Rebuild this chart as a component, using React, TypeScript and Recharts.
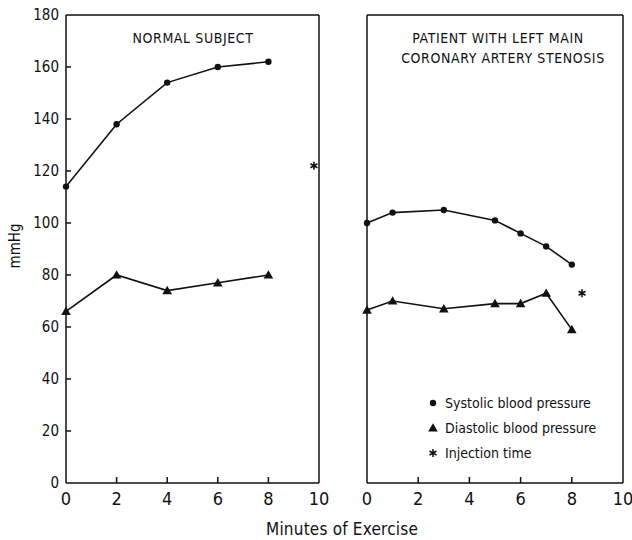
import React from "react";
import { ComposedChart, Line, Scatter, XAxis, YAxis, ReferenceLine } from "recharts";

const FONT = "'Liberation Sans Narrow', 'DejaVu Sans Condensed', 'Arial Narrow', sans-serif";
const INK = "#111";

// X ticks & Y ticks
const minuteTicks = [0, 2, 4, 6, 8, 10];
const pressureTicks = [0, 20, 40, 60, 80, 100, 120, 140, 160, 180];

// Normal subject
const normalMinutes = [0, 2, 4, 6, 8];
const normalSystolic = [114, 138, 154, 160, 162];
const normalDiastolic = [66, 80, 74, 77, 80];
const normalInjection = [{ x: 9.8, y: 122 }];

// Patient with left main coronary artery stenosis
const patientMinutes = [0, 1, 3, 5, 6, 7, 8];
const patientSystolic = [100, 104, 105, 101, 96, 91, 84];
const patientDiastolic = [66.5, 70, 67, 69, 69, 73, 59];
const patientInjection = [{ x: 8.4, y: 73 }];

const toPts = (xs: number[], ys: number[]) => xs.map((x, i) => ({ x, y: ys[i] }));

const CircleDot = (p: any) => {
  if (p.cx == null || p.cy == null) return null;
  return <circle key={`c${p.index}`} cx={p.cx} cy={p.cy} r={3.2} fill={INK} stroke="none" />;
};
const TriDot = (p: any) => {
  if (p.cx == null || p.cy == null) return null;
  const s = 4.8;
  return (
    <path
      key={`t${p.index}`}
      d={`M${p.cx},${p.cy - s} L${p.cx + s},${p.cy + s * 0.75} L${p.cx - s},${p.cy + s * 0.75} Z`}
      fill={INK}
      stroke="none"
    />
  );
};
const Asterisk = (p: any) => {
  const { cx, cy } = p;
  const r = 4;
  const d = [0, 60, 120]
    .map((a) => {
      const rad = (a * Math.PI) / 180;
      const dx = Math.sin(rad) * r;
      const dy = Math.cos(rad) * r;
      return `M${cx - dx},${cy - dy} L${cx + dx},${cy + dy}`;
    })
    .join(" ");
  return <path d={d} stroke={INK} strokeWidth={1.6} fill="none" />;
};

const XTick = (p: any) => {
  const { x, y, payload } = p;
  return (
    <text x={x} y={y} dy={14} textAnchor="middle" fontSize={18} fontFamily={FONT} fill={INK}>
      {payload.value}
    </text>
  );
};
const YTick = (p: any) => {
  const { x, y, payload } = p;
  return (
    <text x={x - 1} y={y} dy={5} textAnchor="end" fontSize={15} fontFamily={FONT} fill={INK}>
      {payload.value}
    </text>
  );
};

const Panel = ({
  left,
  width,
  yWidth,
  marginRight,
  showYTicks,
  minutes,
  sys,
  dia,
  inj,
}: any) => (
  <div style={{ position: "absolute", left, top: 0 }}>
    <ComposedChart width={width} height={540} margin={{ top: 15, right: marginRight, bottom: 0, left: 0 }}>
      <XAxis
        type="number"
        dataKey="x"
        domain={[0, 10]}
        ticks={minuteTicks}
        interval={0}
        height={57}
        tickSize={0}
        tickMargin={8}
        axisLine={{ stroke: INK, strokeWidth: 1.5 }}
        tickLine={false}
        tick={(tp: any) => <XTick {...tp} />}
      />
      <YAxis
        type="number"
        dataKey="y"
        domain={[0, 180]}
        ticks={pressureTicks}
        interval={0}
        width={yWidth}
        tickSize={0}
        tickMargin={6}
        axisLine={{ stroke: INK, strokeWidth: 1.5 }}
        tickLine={false}
        tick={showYTicks ? (tp: any) => <YTick {...tp} /> : false}
      />
      <ReferenceLine y={180} stroke={INK} strokeWidth={1.5} />
      <ReferenceLine x={10} stroke={INK} strokeWidth={1.5} />
      {minuteTicks
        .filter((v) => v > 0 && v < 10)
        .map((v) => (
          <ReferenceLine
            key={`xt${v}`}
            segment={[
              { x: v, y: 0 },
              { x: v, y: 2.3 },
            ]}
            stroke={INK}
            strokeWidth={1.5}
          />
        ))}
      {showYTicks &&
        pressureTicks
          .filter((v) => v > 0 && v < 180)
          .map((v) => (
            <ReferenceLine
              key={`yt${v}`}
              segment={[
                { x: 0, y: v },
                { x: 0.2, y: v },
              ]}
              stroke={INK}
              strokeWidth={1.5}
            />
          ))}
      <Line
        data={toPts(minutes, sys)}
        dataKey="y"
        stroke={INK}
        strokeWidth={1.6}
        dot={CircleDot}
        activeDot={false}
        isAnimationActive={false}
        legendType="none"
      />
      <Line
        data={toPts(minutes, dia)}
        dataKey="y"
        stroke={INK}
        strokeWidth={1.6}
        dot={TriDot}
        activeDot={false}
        isAnimationActive={false}
        legendType="none"
      />
      <Scatter data={inj} shape={Asterisk} isAnimationActive={false} />
    </ComposedChart>
  </div>
);

const txt = (style: React.CSSProperties, s: string) => (
  <div style={{ position: "absolute", fontFamily: FONT, color: INK, whiteSpace: "nowrap", lineHeight: 1, ...style }}>{s}</div>
);

const LegendRow = ({ top, sym, label }: any) => (
  <div style={{ position: "absolute", left: 426, top, height: 16, display: "flex", alignItems: "center" }}>
    <svg width={14} height={14} style={{ marginRight: 5 }}>
      {sym === "circle" && <circle cx={7} cy={7} r={3.2} fill={INK} />}
      {sym === "tri" && <path d="M7,2.2 L11.8,10.6 L2.2,10.6 Z" fill={INK} />}
      {sym === "star" && (
        <path d="M7,3 L7,11 M3.5,5 L10.5,9 M3.5,9 L10.5,5" stroke={INK} strokeWidth={1.5} />
      )}
    </svg>
    <span style={{ fontFamily: FONT, fontSize: 14, color: INK }}>{label}</span>
  </div>
);

export default function App() {
  return (
    <div style={{ position: "absolute", left: 0, top: 0, width: 632, height: 540, background: "#fff", overflow: "hidden" }}>
      <Panel
        left={0}
        width={330}
        yWidth={66}
        marginRight={11}
        showYTicks={true}
        minutes={normalMinutes}
        sys={normalSystolic}
        dia={normalDiastolic}
        inj={normalInjection}
      />
      <Panel
        left={340}
        width={292}
        yWidth={27}
        marginRight={9}
        showYTicks={false}
        minutes={patientMinutes}
        sys={patientSystolic}
        dia={patientDiastolic}
        inj={patientInjection}
      />
      {txt({ left: 193, top: 31, transform: "translateX(-50%)", fontSize: 14, letterSpacing: 0.6 }, "NORMAL SUBJECT")}
      {txt({ left: 498, top: 31, transform: "translateX(-50%)", fontSize: 14, letterSpacing: 0.6 }, "PATIENT WITH LEFT MAIN")}
      {txt({ left: 503, top: 51, transform: "translateX(-50%)", fontSize: 14, letterSpacing: 0.6 }, "CORONARY ARTERY STENOSIS")}
      {txt({ left: 342, top: 521, transform: "translateX(-50%)", fontSize: 17, letterSpacing: 0.2 }, "Minutes of Exercise")}
      {txt({ left: 15, top: 246, transform: "translate(-50%, -50%) rotate(-90deg)", fontSize: 15 }, "mmHg")}
      <LegendRow top={395} sym="circle" label="Systolic blood pressure" />
      <LegendRow top={420} sym="tri" label="Diastolic blood pressure" />
      <LegendRow top={445} sym="star" label="Injection time" />
    </div>
  );
}
